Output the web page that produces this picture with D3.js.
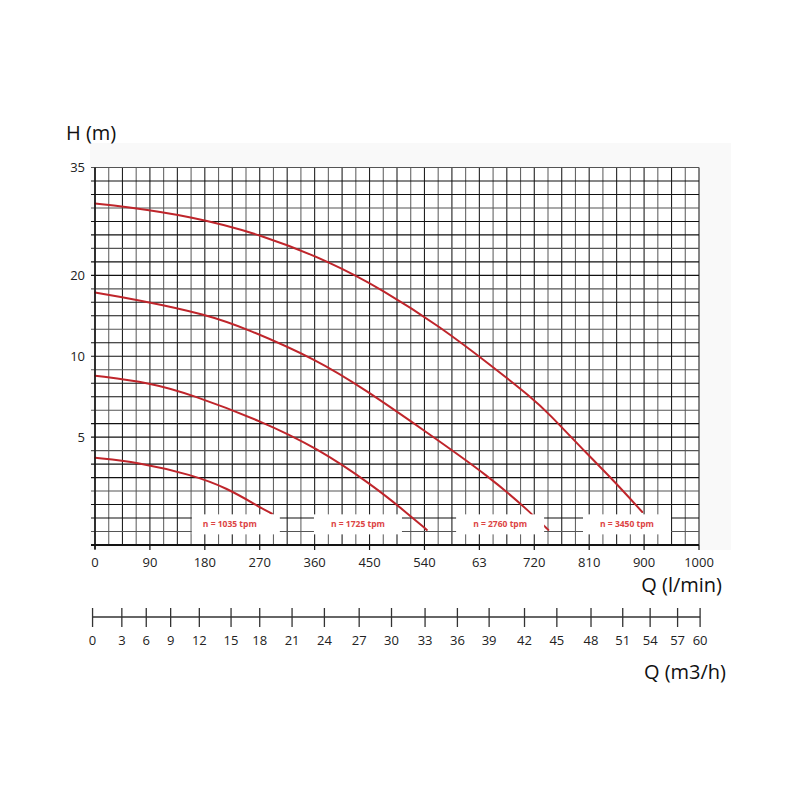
<!DOCTYPE html>
<html>
<head>
<meta charset="utf-8">
<script src="https://cdn.jsdelivr.net/npm/d3@7"></script>
<style>
	body { margin: 0; background: #fff; }
	text { font-family: "Open Sans", sans-serif; }
</style>
</head>
<body>
<svg id="chart" width="800" height="800"></svg>
<script>
// axis ticks
var qTicks = [0, 90, 180, 270, 360, 450, 540, 630, 720, 810, 900, 1000];
var qTickLabels = ["0", "90", "180", "270", "360", "450", "540", "63", "720", "810", "900", "1000"];
var hTicks = [0, 5, 10, 20, 35];
var hTickLabels = ["", "5", "10", "20", "35"];
var hGridSteps = [8, 6, 6, 8];

// m3/h scale, each tick sits at a l/min position
var m3hTicks = [0, 3, 6, 9, 12, 15, 18, 21, 24, 27, 30, 33, 36, 39, 42, 45, 48, 51, 54, 57, 60];
var m3hAtQ = [-4, 44, 84, 124, 171, 223, 270, 323, 376, 433, 486, 541, 594, 646, 704, 757, 813, 865, 911, 961, 1002];

// curves (Q l/min, H m)
var speeds = ["n = 1035 tpm", "n = 1725 tpm", "n = 2760 tpm", "n = 3450 tpm"];
var q1035 = [0, 69, 159, 216, 272, 290];
var h1035 = [4.04, 3.85, 3.25, 2.65, 1.72, 1.45];
var q1725 = [0, 90, 159, 272, 364, 456, 511, 544];
var h1725 = [8.8, 8.37, 7.62, 6.0, 4.5, 2.75, 1.49, 0.7];
var q2760 = [0, 69, 184, 249, 364, 443, 538, 647, 713, 743];
var h2760 = [17.87, 17.0, 15.15, 13.4, 9.78, 7.93, 5.45, 3.16, 1.53, 0.7];
var q3450 = [0, 45, 159, 272, 385, 472, 565, 652, 716, 741, 808, 849, 897];
var h3450 = [30.0, 29.6, 28.2, 25.7, 21.9, 18.2, 13.7, 9.35, 7.43, 6.57, 4.18, 3.02, 1.53];

// speed label anchors
var labelQ = [221, 431, 664, 872];
var labelH = 0.98;

var pLeft = 95, pRight = 699, pTop = 167.5, pBottom = 545;
var red = "#bf252b";

var svg = d3.select("#chart");

var x = d3.scaleLinear()
	.domain(qTicks)
	.range(qTicks.map(function(d, i){ return pLeft + i * (pRight - pLeft) / (qTicks.length - 1); }));

var totalSteps = d3.sum(hGridSteps);
var cum = [0];
hGridSteps.forEach(function(s){ cum.push(cum[cum.length - 1] + s); });
var y = d3.scaleLinear()
	.domain(hTicks)
	.range(cum.map(function(c){ return pBottom - c * (pBottom - pTop) / totalSteps; }));

// faint backdrop
svg.append("rect")
	.attr("x", 90).attr("y", 143)
	.attr("width", 641).attr("height", 407)
	.attr("fill", "#f9f9f9");

svg.append("rect")
	.attr("x", pLeft).attr("y", pTop)
	.attr("width", pRight - pLeft).attr("height", pBottom - pTop)
	.attr("fill", "#fff");

// grid
var grid = svg.append("g");
var nV = (qTicks.length - 1) * 4;
d3.range(nV + 1).forEach(function(i){
	var gx = pLeft + i * (pRight - pLeft) / nV;
	grid.append("line")
		.attr("x1", gx).attr("x2", gx)
		.attr("y1", pTop).attr("y2", pBottom)
		.attr("stroke", i % 2 ? "#666" : "#222")
		.attr("stroke-width", 1.1);
});
d3.range(totalSteps + 1).forEach(function(i){
	var gy = pBottom - i * (pBottom - pTop) / totalSteps;
	grid.append("line")
		.attr("x1", pLeft - 4).attr("x2", pRight)
		.attr("y1", gy).attr("y2", gy)
		.attr("stroke", i % 3 == 1 ? "#555" : "#111")
		.attr("stroke-width", 1.1);
});

// curves
var line = d3.line()
	.x(function(d){ return x(d[0]); })
	.y(function(d){ return y(d[1]); })
	.curve(d3.curveBasis);

[[q1035, h1035], [q1725, h1725], [q2760, h2760], [q3450, h3450]].forEach(function(c){
	svg.append("path")
		.datum(d3.zip(c[0], c[1]))
		.attr("fill", "none")
		.attr("stroke", red)
		.attr("stroke-width", 2)
		.attr("stroke-linecap", "round")
		.attr("d", line);
});

// speed labels
var lab = svg.append("g").selectAll("g")
	.data(speeds)
	.enter().append("g")
	.attr("transform", function(d, i){ return "translate(" + x(labelQ[i]) + "," + y(labelH) + ")"; });
lab.append("rect")
	.attr("x", function(d, i){ return i == 0 ? -38 : -44; })
	.attr("y", -9.5)
	.attr("width", 88).attr("height", 20)
	.attr("fill", "#fff");
lab.append("text")
	.attr("text-anchor", "middle")
	.attr("dy", "0.35em")
	.attr("font-size", 8.5)
	.attr("font-weight", "bold")
	.attr("fill", "#dc4444")
	.text(function(d){ return d; });

// axes lines
svg.append("line")
	.attr("x1", pLeft - 4).attr("x2", pRight)
	.attr("y1", pBottom).attr("y2", pBottom)
	.attr("stroke", "#111").attr("stroke-width", 1.8);
svg.append("line")
	.attr("x1", pLeft).attr("x2", pLeft)
	.attr("y1", pTop).attr("y2", pBottom + 4)
	.attr("stroke", "#111").attr("stroke-width", 1.5);

var xt = svg.append("g").selectAll("g")
	.data(qTicks)
	.enter().append("g")
	.attr("transform", function(d){ return "translate(" + x(d) + "," + pBottom + ")"; });
xt.append("line").attr("y2", 5).attr("stroke", "#111").attr("stroke-width", 1.2);
xt.append("text")
	.attr("y", 22)
	.attr("text-anchor", "middle")
	.attr("font-size", 13)
	.attr("fill", "#222")
	.text(function(d, i){ return qTickLabels[i]; });

svg.append("g").selectAll("text")
	.data(hTicks)
	.enter().append("text")
	.attr("x", pLeft - 10)
	.attr("y", function(d){ return y(d); })
	.attr("dy", "0.35em")
	.attr("text-anchor", "end")
	.attr("font-size", 13)
	.attr("fill", "#222")
	.text(function(d, i){ return hTickLabels[i]; });

// titles
svg.append("text").attr("x", 66).attr("y", 140)
	.attr("font-size", 20).attr("fill", "#111").text("H (m)");
svg.append("text").attr("x", 722).attr("y", 592)
	.attr("text-anchor", "end")
	.attr("font-size", 20).attr("fill", "#111").text("Q (l/min)");

// m3/h axis
var axY = 617;
svg.append("line")
	.attr("x1", x(m3hAtQ[0])).attr("x2", x(m3hAtQ[m3hAtQ.length - 1]))
	.attr("y1", axY).attr("y2", axY)
	.attr("stroke", "#333").attr("stroke-width", 1.3);
var mt = svg.append("g").selectAll("g")
	.data(m3hTicks)
	.enter().append("g")
	.attr("transform", function(d, i){ return "translate(" + x(m3hAtQ[i]) + "," + axY + ")"; });
mt.append("line").attr("y1", -9).attr("y2", 10).attr("stroke", "#333").attr("stroke-width", 1.3);
mt.append("text")
	.attr("y", 28)
	.attr("text-anchor", "middle")
	.attr("font-size", 13)
	.attr("fill", "#222")
	.text(function(d){ return d; });

svg.append("text").attr("x", 726).attr("y", 679)
	.attr("text-anchor", "end")
	.attr("font-size", 20).attr("fill", "#111").text("Q (m3/h)");
</script>
</body>
</html>
